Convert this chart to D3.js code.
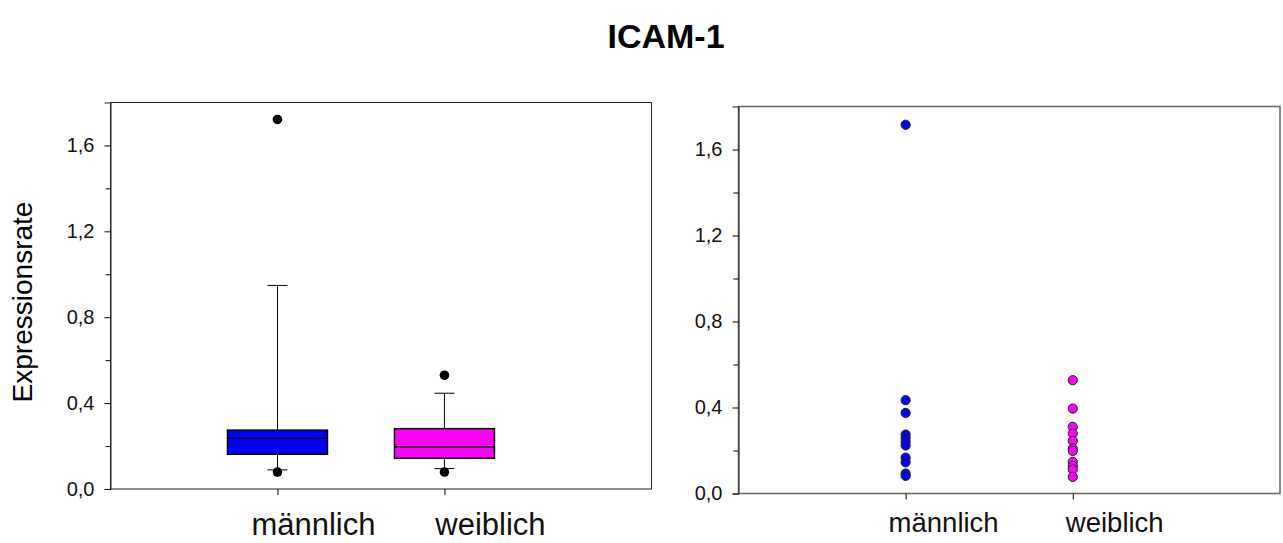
<!DOCTYPE html>
<html>
<head>
<meta charset="utf-8">
<script src="https://cdn.jsdelivr.net/npm/d3@7"></script>
<style>
  body { margin: 0; background: #fff; }
  svg { font-family: Arial, "Liberation Sans", sans-serif; }
</style>
</head>
<body>
<div id="chart"></div>
<script>
// categories and values
const categories = ["männlich", "weiblich"];
const boxColors = ["#0000ff", "#ff00ff"];

// box plot summaries: [lowerWhisker, q1, median, q3, upperWhisker]
const boxMale = [0.089, 0.162, 0.236, 0.274, 0.948];
const boxFemale = [0.095, 0.143, 0.197, 0.281, 0.446];
// points drawn beyond the whiskers
const outliersMale = [1.721, 0.079];
const outliersFemale = [0.530, 0.079];

// raw values for the scatter panel
const pointsMale = [1.715, 0.434, 0.375, 0.274, 0.258, 0.240, 0.223, 0.167, 0.145, 0.093, 0.082];
const pointsFemale = [0.527, 0.395, 0.310, 0.279, 0.245, 0.209, 0.198, 0.147, 0.128, 0.112, 0.077];

const yTicks = [0, 0.4, 0.8, 1.2, 1.6];
const yMinorTicks = [0.2, 0.6, 1.0, 1.4];

const W = 1283, H = 543;
const svg = d3.select("#chart").append("svg")
    .attr("width", W)
    .attr("height", H);

const fmt = d => d3.format(".1f")(d).replace(".", ",");

// Title
svg.append("text")
    .attr("x", 666)
    .attr("y", 48)
    .attr("text-anchor", "middle")
    .attr("font-size", "34px")
    .attr("font-weight", "bold")
    .text("ICAM-1");

// Y label
svg.append("text")
    .attr("transform", "rotate(-90)")
    .attr("x", -302)
    .attr("y", 32)
    .attr("text-anchor", "middle")
    .attr("font-size", "28px")
    .text("Expressionsrate");

function drawPanel(p) {
    const x = d3.scaleLinear().domain([0, 3.24]).range([p.left, p.right]);
    const y = d3.scaleLinear().domain([0, 1.8]).range([p.bottom, p.top]);
    const g = svg.append("g");

    // frame
    g.append("rect")
        .attr("x", p.left)
        .attr("y", p.top)
        .attr("width", p.right - p.left)
        .attr("height", p.bottom - p.top)
        .attr("fill", "none")
        .attr("stroke", p.frameColor)
        .attr("stroke-width", p.frameWidth);

    // y axis
    const yAxis = g.append("g")
        .attr("transform", `translate(${p.left},0)`)
        .call(d3.axisLeft(y).tickValues(yTicks).tickFormat(fmt).tickSize(6).tickPadding(10));
    yAxis.select(".domain").attr("stroke", "#222");
    yAxis.selectAll("text").attr("font-size", "20px").attr("font-family", "Arial, 'Liberation Sans', sans-serif").attr("fill", "#111");
    g.append("g")
        .attr("transform", `translate(${p.left},0)`)
        .call(d3.axisLeft(y).tickValues(yMinorTicks).tickFormat("").tickSize(5))
        .select(".domain").remove();

    // x axis ticks
    const xAxis = g.append("g")
        .attr("transform", `translate(0,${p.bottom})`)
        .call(d3.axisBottom(x).tickValues([1, 2]).tickFormat("").tickSize(6));
    xAxis.select(".domain").remove();

    // category labels
    g.selectAll(".cat")
        .data(categories)
        .enter()
        .append("text")
        .attr("class", "cat")
        .attr("x", (d, i) => x(i + 1) + p.labelDx[i])
        .attr("y", p.labelY)
        .attr("text-anchor", "middle")
        .attr("font-size", p.labelSize)
        .attr("fill", "#111")
        .text(d => d);

    return { g, x, y };
}

// Left panel: box plots
const left = drawPanel({
    left: 110.5, right: 651.5, top: 102.5, bottom: 489,
    frameColor: "#222", frameWidth: 1,
    labelDx: [36, 46], labelY: 535, labelSize: "31px"
});
const boxes = [
    { stats: boxMale, outliers: outliersMale },
    { stats: boxFemale, outliers: outliersFemale }
];
const boxW = 100, capW = 20;
boxes.forEach((b, i) => {
    const cx = left.x(i + 1);
    const [lo, q1, med, q3, hi] = b.stats;
    const g = left.g.append("g");
    g.append("line")
        .attr("x1", cx).attr("x2", cx)
        .attr("y1", left.y(hi)).attr("y2", left.y(q3))
        .attr("stroke", "#000").attr("stroke-width", 1);
    g.append("line")
        .attr("x1", cx).attr("x2", cx)
        .attr("y1", left.y(q1)).attr("y2", left.y(lo))
        .attr("stroke", "#000").attr("stroke-width", 1);
    [lo, hi].forEach(v => {
        g.append("line")
            .attr("x1", cx - capW / 2).attr("x2", cx + capW / 2)
            .attr("y1", left.y(v)).attr("y2", left.y(v))
            .attr("stroke", "#000").attr("stroke-width", 1);
    });
    g.append("rect")
        .attr("x", cx - boxW / 2)
        .attr("y", left.y(q3))
        .attr("width", boxW)
        .attr("height", left.y(q1) - left.y(q3))
        .attr("fill", boxColors[i])
        .attr("stroke", "#000")
        .attr("stroke-width", 1.5);
    g.append("line")
        .attr("x1", cx - boxW / 2).attr("x2", cx + boxW / 2)
        .attr("y1", left.y(med)).attr("y2", left.y(med))
        .attr("stroke", "#000").attr("stroke-width", 1.5);
    g.selectAll(".out")
        .data(b.outliers)
        .enter()
        .append("circle")
        .attr("cx", cx)
        .attr("cy", d => left.y(d))
        .attr("r", 4.8)
        .attr("fill", "#000");
});

// Right panel: raw points
const right = drawPanel({
    left: 738.5, right: 1280, top: 106.5, bottom: 493.5,
    frameColor: "#666", frameWidth: 1.5,
    labelDx: [38, 42], labelY: 532, labelSize: "27.5px"
});
[pointsMale, pointsFemale].forEach((pts, i) => {
    right.g.selectAll(".pt" + i)
        .data(pts)
        .enter()
        .append("circle")
        .attr("cx", right.x(i + 1))
        .attr("cy", d => right.y(d))
        .attr("r", 4.6)
        .attr("fill", boxColors[i])
        .attr("stroke", "#222")
        .attr("stroke-width", 1);
});
</script>
</body>
</html>
